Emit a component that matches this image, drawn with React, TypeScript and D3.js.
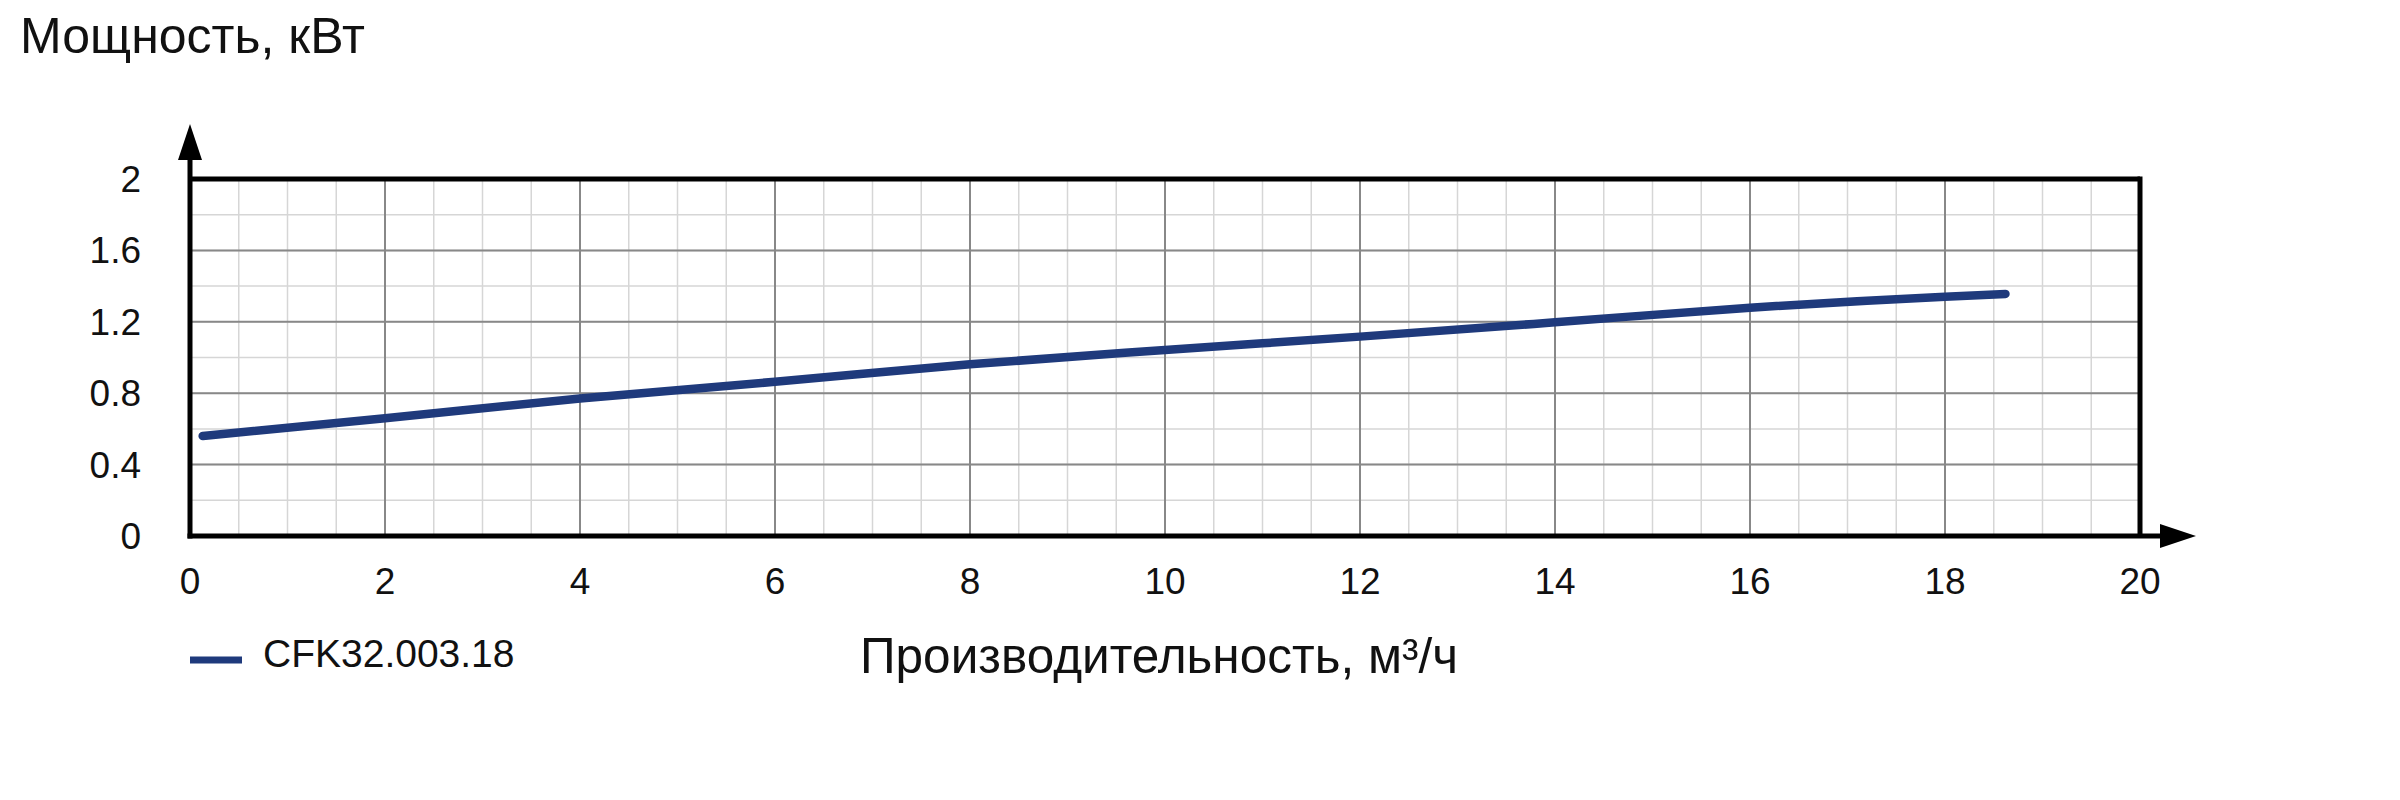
import React from "react";
import * as d3 from "d3";

const flowValues = [0.13, 2, 4, 6, 8, 10, 12, 14, 16, 18, 18.62];
const powerValues = [0.56, 0.66, 0.77, 0.864, 0.962, 1.042, 1.117, 1.197, 1.279, 1.341, 1.356];
const xTicks = [0, 2, 4, 6, 8, 10, 12, 14, 16, 18, 20];
const yTicks = [0, 0.4, 0.8, 1.2, 1.6, 2];
const seriesName = "CFK32.003.18";
const yTitle = "Мощность, кВт";
const xTitle = "Производительность, м³/ч";

export default function App() {
  const W = 2400, H = 800;
  const left = 190, right = 2140, top = 179, bottom = 536;
  const x = d3.scaleLinear().domain([0, 20]).range([left, right]);
  const y = d3.scaleLinear().domain([0, 2]).range([bottom, top]);
  const minorX = d3.range(0, 20.001, 0.5);
  const minorY = d3.range(0, 2.001, 0.2);
  const data = flowValues.map((v, i) => [v, powerValues[i]] as [number, number]);
  const line = d3.line<[number, number]>().x(d => x(d[0])).y(d => y(d[1])).curve(d3.curveMonotoneX);
  const color = "#1f3a7c";
  const font = "'Liberation Sans', Arial, sans-serif";
  return (
    <svg width={W} height={H} style={{ position: "absolute", left: 0, top: 0, background: "#fff" }} fontFamily={font}>
      <rect x={0} y={0} width={W} height={H} fill="#fff" />
      {minorX.map((v, i) => (
        <line key={"mx" + i} x1={x(v)} x2={x(v)} y1={top} y2={bottom} stroke="#d6d6d6" strokeWidth={1.5} />
      ))}
      {minorY.map((v, i) => (
        <line key={"my" + i} x1={left} x2={right} y1={y(v)} y2={y(v)} stroke="#d6d6d6" strokeWidth={1.5} />
      ))}
      {xTicks.map((v, i) => (
        <line key={"Mx" + i} x1={x(v)} x2={x(v)} y1={top} y2={bottom} stroke="#888" strokeWidth={2} />
      ))}
      {yTicks.map((v, i) => (
        <line key={"My" + i} x1={left} x2={right} y1={y(v)} y2={y(v)} stroke="#888" strokeWidth={2} />
      ))}
      {/* frame */}
      <line x1={left} x2={right} y1={top} y2={top} stroke="#000" strokeWidth={5} />
      <line x1={right} x2={right} y1={top - 2.5} y2={bottom} stroke="#000" strokeWidth={5} />
      <line x1={left} x2={left} y1={160} y2={bottom + 2.5} stroke="#000" strokeWidth={5} />
      <line x1={left - 2.5} x2={2162} y1={bottom} y2={bottom} stroke="#000" strokeWidth={5} />
      <path d={`M${left},124 L${left - 12},160 L${left + 12},160 Z`} fill="#000" />
      <path d={`M2196,${bottom} L2160,${bottom - 12} L2160,${bottom + 12} Z`} fill="#000" />
      {/* curve */}
      <path d={line(data) || ""} fill="none" stroke={color} strokeWidth={8.5} strokeLinecap="round" />
      {/* tick labels */}
      {yTicks.map((v, i) => (
        <text key={"yl" + i} x={141} y={y(v) + 13} textAnchor="end" fontSize={37} fill="#111">{String(v)}</text>
      ))}
      {xTicks.map((v, i) => (
        <text key={"xl" + i} x={x(v)} y={594} textAnchor="middle" fontSize={37} fill="#111">{String(v)}</text>
      ))}
      {/* titles */}
      <text x={20} y={53} fontSize={50} fill="#111">{yTitle}</text>
      <text x={860} y={673} fontSize={49.5} fill="#111">{xTitle}</text>
      {/* legend */}
      <line x1={190} x2={242} y1={660} y2={660} stroke={color} strokeWidth={7} />
      <text x={263} y={667} fontSize={39} fill="#111">{seriesName}</text>
    </svg>
  );
}
